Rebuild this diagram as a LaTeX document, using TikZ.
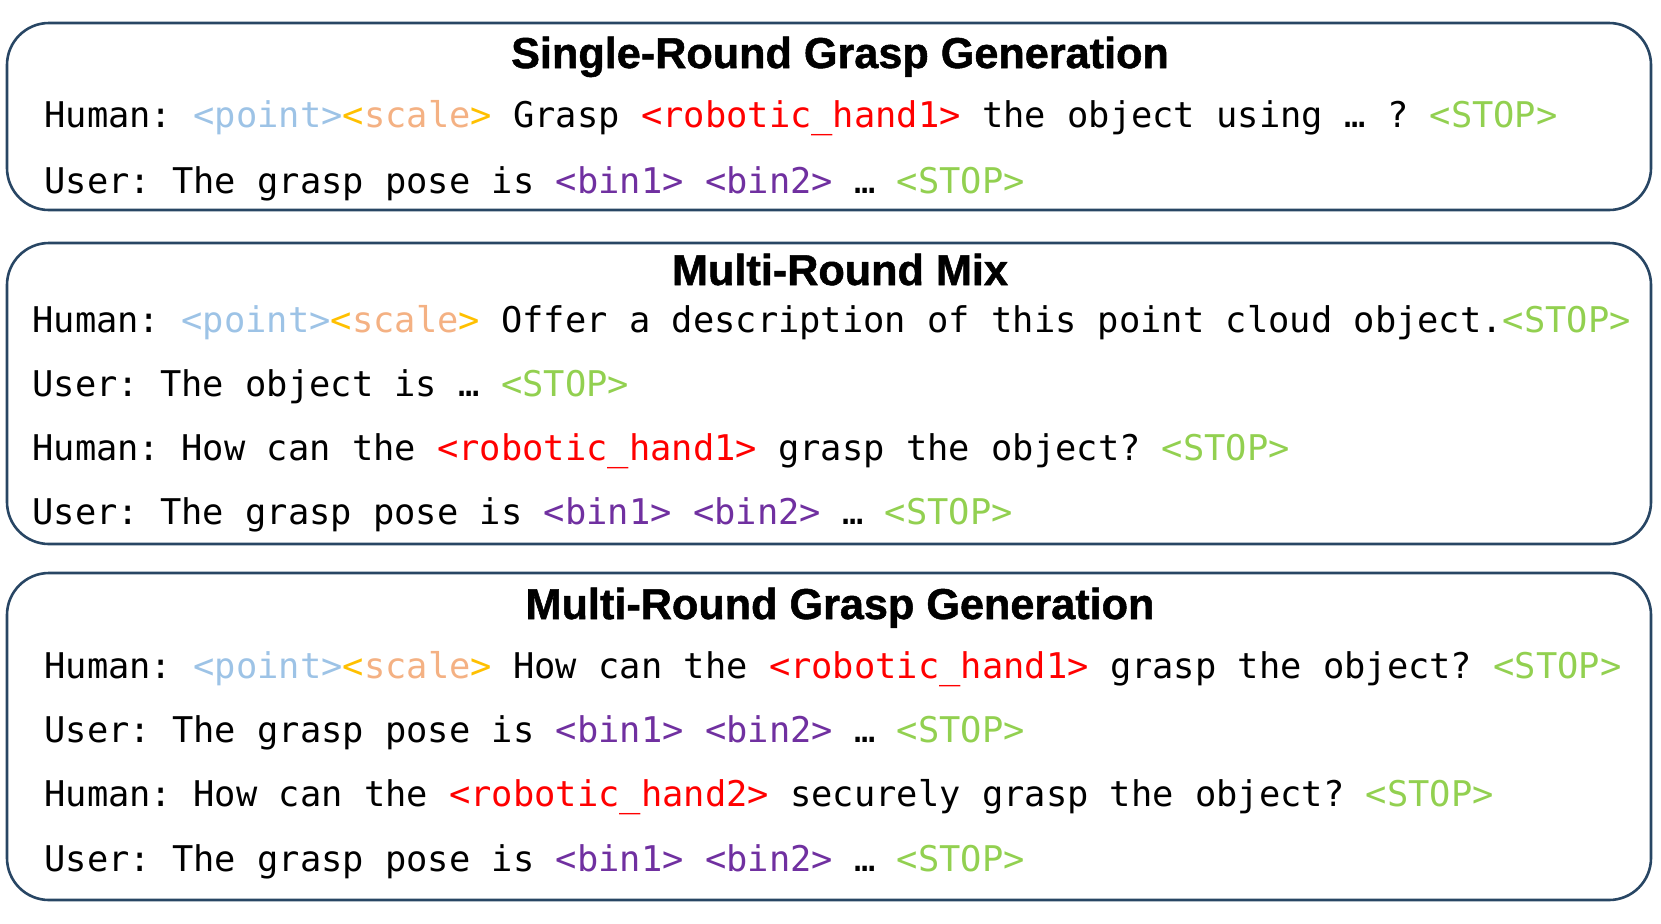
\documentclass[tikz,border=0pt]{standalone}
\usepackage{fontspec}
\usepackage{xcolor}
\newfontfamily\chatfont{DejaVu Sans Mono}
\newfontfamily\titlefont{Liberation Sans Bold}[FakeBold=1.2]

\definecolor{panelblue}{RGB}{40,70,100}
\definecolor{pointblue}{RGB}{157,195,230}
\definecolor{scalegold}{RGB}{255,192,0}
\definecolor{scalepeach}{RGB}{244,177,131}
\definecolor{handred}{RGB}{255,0,0}
\definecolor{binpurple}{RGB}{112,48,160}
\definecolor{stopgreen}{RGB}{146,208,80}

\newcommand{\tokpoint}{\textcolor{pointblue}{<point>}}
\newcommand{\tokscale}{\textcolor{scalegold}{<}\textcolor{scalepeach}{scale}\textcolor{scalegold}{>}}
\newcommand{\tokhand}[1]{\textcolor{handred}{<robotic\_hand#1>}}
\newcommand{\tokbin}[1]{\textcolor{binpurple}{<bin#1>}}
\newcommand{\tokstop}{\textcolor{stopgreen}{<STOP>}}

\tikzset{
  panel/.style={draw=panelblue, line width=1.3pt, rounded corners=21pt},
  heading/.style={anchor=base, inner sep=0pt, font=\titlefont\fontsize{21.6}{24}\selectfont},
  turn/.style={anchor=base west, inner sep=0pt, font=\chatfont\fontsize{17.7}{20}\selectfont}
}

\begin{document}
\frenchspacing
\begin{tikzpicture}[x=0.5pt, y=-0.5pt]
\useasboundingbox (0,0) rectangle (1661,923);

% Single round
\draw[panel] (7,23) rectangle (1651,210);
\node[heading] (t1) at (840,68) {Single-Round Grasp Generation};
\node[turn] (s1) at (44,127) {Human: \tokpoint\tokscale{} Grasp \tokhand{1} the object using … ? \tokstop};
\node[turn] (s2) at (44,193) {User: The grasp pose is \tokbin{1} \tokbin{2} … \tokstop};

% Multi round mix
\draw[panel] (7,243) rectangle (1651,544);
\node[heading] (t2) at (840,285) {Multi-Round Mix};
\node[turn] (m1) at (32,332) {Human: \tokpoint\tokscale{} Offer a description of this point cloud object.\tokstop};
\node[turn] (m2) at (32,396) {User: The object is … \tokstop};
\node[turn] (m3) at (32,460) {Human: How can the \tokhand{1} grasp the object? \tokstop};
\node[turn] (m4) at (32,524) {User: The grasp pose is \tokbin{1} \tokbin{2} … \tokstop};

% Multi round grasp
\draw[panel] (7,573) rectangle (1651,900);
\node[heading] (t3) at (840,619) {Multi-Round Grasp Generation};
\node[turn] (g1) at (44,678) {Human: \tokpoint\tokscale{} How can the \tokhand{1} grasp the object? \tokstop};
\node[turn] (g2) at (44,742) {User: The grasp pose is \tokbin{1} \tokbin{2} … \tokstop};
\node[turn] (g3) at (44,806) {Human: How can the \tokhand{2} securely grasp the object? \tokstop};
\node[turn] (g4) at (44,871) {User: The grasp pose is \tokbin{1} \tokbin{2} … \tokstop};

\end{tikzpicture}
\end{document}
